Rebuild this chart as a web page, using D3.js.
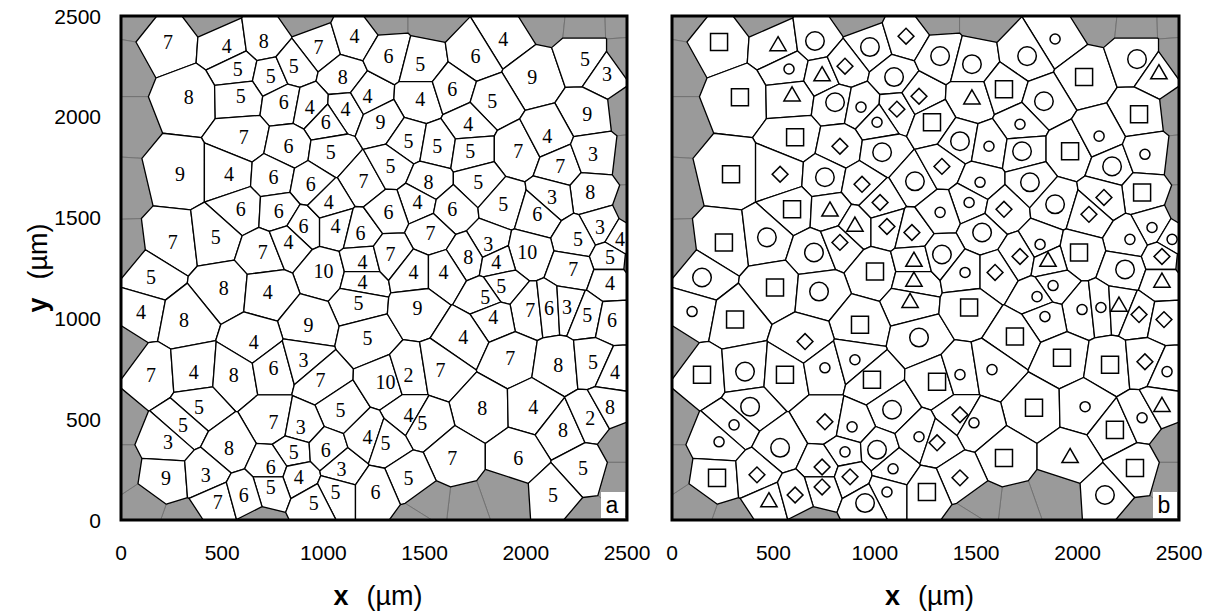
<!DOCTYPE html>
<html><head><meta charset="utf-8">
<script src="https://cdn.jsdelivr.net/npm/d3@7"></script>
<style>body{margin:0;background:#fff}</style>
</head><body>
<svg id="c" width="1207" height="614"></svg>
<script>
const xTicks=[0,500,1000,1500,2000,2500];
const yTicks=[0,500,1000,1500,2000,2500];
// grain centres (µm): [x, y, number of neighbours, symbol class in panel b]
// S square, C large circle, c small circle, D diamond, T triangle
const cells=[
[232,2371,7,"S"],[523,2351,4,"T"],[705,2376,8,"C"],[976,2346,7,"C"],[1154,2400,4,"D"],
[577,2237,5,"c"],[740,2202,5,"T"],[853,2251,5,"D"],[1095,2197,8,"C"],[335,2097,8,"S"],
[592,2102,5,"T"],[804,2072,6,"C"],[932,2048,4,"c"],[1109,2038,4,"D"],[1011,1973,6,"c"],
[1218,2102,4,"D"],[607,1899,7,"S"],[828,1854,6,"D"],[1036,1824,5,"C"],[291,1715,9,"S"],
[533,1715,4,"D"],[754,1700,6,"C"],[937,1665,6,"D"],[1198,1680,7,"C"],[1322,2301,6,"C"],
[1479,2261,5,"C"],[1889,2386,4,"c"],[1751,2301,6,"C"],[2032,2197,9,"S"],[2293,2286,5,"C"],
[2401,2212,3,"T"],[1479,2087,4,"T"],[1637,2137,6,"S"],[1834,2077,5,"C"],[2303,2013,9,"S"],
[1282,1973,9,"S"],[1716,1963,4,"c"],[1420,1879,5,"C"],[1563,1854,5,"c"],[1726,1829,5,"C"],
[1963,1829,7,"S"],[2106,1904,4,"c"],[2170,1754,7,"C"],[2332,1814,3,"c"],[1331,1754,5,"D"],
[1519,1675,8,"c"],[1765,1675,5,"C"],[2318,1625,8,"S"],
[592,1541,6,"S"],[779,1531,6,"T"],[902,1456,6,"T"],[1026,1575,4,"D"],[1060,1456,4,"D"],
[1183,1426,6,"D"],[256,1377,7,"S"],[468,1402,5,"C"],[700,1327,7,"C"],[828,1377,4,"D"],
[1001,1233,10,"S"],[1193,1282,4,"T"],[1193,1183,4,"T"],[148,1203,5,"C"],[508,1153,8,"S"],
[725,1133,4,"C"],[1174,1078,5,"T"],[99,1034,4,"c"],[311,994,8,"S"],[927,969,9,"S"],
[656,885,4,"D"],[1218,905,5,"C"],[1465,1575,4,"c"],[1637,1541,6,"D"],[1889,1566,5,"C"],
[2130,1600,3,"D"],[1322,1526,6,"c"],[2056,1516,6,"D"],[1529,1426,7,"C"],[2367,1451,3,"c"],
[2466,1392,4,"c"],[2258,1392,5,"c"],[1331,1317,7,"C"],[1815,1367,3,"c"],[1716,1307,8,"D"],
[2007,1327,10,"S"],[2416,1307,5,"D"],[1854,1282,4,"T"],[2234,1243,7,"C"],[1445,1228,4,"c"],
[1593,1228,4,"D"],[1879,1163,5,"c"],[2416,1178,4,"T"],[1800,1108,5,"c"],[1465,1054,9,"S"],
[2022,1044,7,"c"],[2115,1054,6,"c"],[2204,1059,3,"T"],[2303,1019,5,"D"],[2426,994,6,"D"],
[1839,1009,4,"c"],[1691,910,4,"S"],
[148,721,7,"S"],[360,736,4,"C"],[557,721,8,"S"],[754,755,6,"c"],[902,795,3,"c"],
[986,696,7,"S"],[385,562,5,"C"],[1085,547,5,"C"],[306,472,5,"c"],[754,487,7,"D"],
[888,462,3,"c"],[232,388,3,"c"],[533,358,8,"C"],[853,338,5,"c"],[1011,348,6,"C"],
[222,209,9,"S"],[740,263,6,"D"],[419,224,3,"D"],[878,214,4,"D"],[1090,254,3,"c"],
[740,164,5,"D"],[1060,139,5,"c"],[478,89,7,"T"],[607,124,6,"D"],[952,84,5,"C"],
[1307,686,10,"S"],[1420,721,2,"c"],[1578,746,7,"c"],[1923,805,7,"S"],[2160,770,8,"S"],
[2332,785,5,"D"],[2441,736,4,"c"],[1785,557,8,"S"],[2037,562,4,"c"],[2184,447,8,"S"],
[2318,507,2,"c"],[2416,562,8,"T"],[1420,522,4,"D"],[1489,482,5,"c"],[1218,413,4,"c"],
[1307,383,5,"D"],[1637,308,7,"S"],[1963,308,6,"T"],[2283,258,5,"S"],[1420,209,5,"D"],
[1257,139,6,"S"],[2135,124,5,"C"]
];
// grains outside the sample (grey)
const grayCells=[
[39,2525],[444,2530],[912,2520],[1307,2515],[1529,2515],[2096,2515],[2293,2495],[2490,2500],
[2505,2286],[2520,2038],[2544,1789],[2554,1541],[2564,1292],[2490,373],[2490,199],
[2318,-30],[1898,109],[1701,40],[1529,60],[1479,-20],[690,-40],[296,-30],[99,40],
[-10,2237],[-10,1963],[-30,1640],[-20,1342],[-20,845],[-39,497],[-39,249]
];

const svg=d3.select("#c");
const y=d3.scaleLinear().domain([0,2500]).range([520,16]);
const panels=[
 {id:"a",x:d3.scaleLinear().domain([0,2500]).range([121,627]),mode:"num"},
 {id:"b",x:d3.scaleLinear().domain([0,2500]).range([672,1179]),mode:"sym"}
];
const pts=cells.map(d=>[d[0],d[1]]).concat(grayCells);
const vor=d3.Delaunay.from(pts).voronoi([0,0,2500,2500]);
const nW=cells.length;
const symMap={S:[d3.symbolSquare,290,0],C:[d3.symbolCircle,270,0],c:[d3.symbolCircle,80,0],D:[d3.symbolSquare,125,45],T:[d3.symbolTriangle,115,0]};
const sans="Liberation Sans, Arial, sans-serif";

panels.forEach(p=>{
  const g=svg.append("g");
  const clipId="clip"+p.id;
  svg.append("clipPath").attr("id",clipId).append("rect")
    .attr("x",p.x(0)).attr("y",y(2500)).attr("width",p.x(2500)-p.x(0)).attr("height",y(0)-y(2500));
  const cg=g.append("g").attr("clip-path","url(#"+clipId+")");
  const line=d3.line().x(d=>p.x(d[0])).y(d=>y(d[1]));
  pts.forEach((pt,i)=>{
    if(i<nW) return;
    const poly=vor.cellPolygon(i); if(!poly) return;
    cg.append("path").attr("d",line(poly)+"Z").attr("fill","#9a9a9a").attr("stroke","#737373").attr("stroke-width",1);
  });
  pts.forEach((pt,i)=>{
    if(i>=nW) return;
    const poly=vor.cellPolygon(i); if(!poly) return;
    cg.append("path").attr("d",line(poly)+"Z").attr("fill","#fff").attr("stroke","#000").attr("stroke-width",1.3).attr("stroke-linejoin","round");
  });
  if(p.mode==="num"){
    cg.selectAll("text.n").data(cells).join("text").attr("class","n")
      .attr("x",d=>p.x(d[0])).attr("y",d=>y(d[1]))
      .attr("text-anchor","middle").attr("dominant-baseline","central")
      .attr("font-family","Liberation Serif, DejaVu Serif, serif").attr("font-size",20)
      .text(d=>d[2]);
  } else {
    cg.selectAll("path.s").data(cells).join("path").attr("class","s")
      .attr("d",d=>d3.symbol().type(symMap[d[3]][0]).size(symMap[d[3]][1])())
      .attr("transform",d=>`translate(${p.x(d[0])},${y(d[1])}) rotate(${symMap[d[3]][2]})`)
      .attr("fill","none").attr("stroke","#000").attr("stroke-width",1.5);
  }
  const lx=p.x(2500)-15, ly=y(0)-15;
  g.append("rect").attr("x",lx-11).attr("y",ly-13).attr("width",24).attr("height",26).attr("fill","#fff");
  g.append("text").attr("x",lx).attr("y",ly).attr("text-anchor","middle").attr("dominant-baseline","central")
    .attr("font-family",sans).attr("font-size",23).text(p.id);
  g.append("rect").attr("x",p.x(0)).attr("y",y(2500)).attr("width",p.x(2500)-p.x(0)).attr("height",y(0)-y(2500))
    .attr("fill","none").attr("stroke","#000").attr("stroke-width",3);
  g.selectAll("text.xt").data(xTicks).join("text").attr("class","xt")
    .attr("x",d=>p.x(d)).attr("y",552).attr("text-anchor","middle").attr("dominant-baseline","central")
    .attr("font-family",sans).attr("font-size",21).text(d=>d);
  const xt=g.append("text").attr("x",(p.x(0)+p.x(2500))/2+4).attr("y",596).attr("text-anchor","middle").attr("dominant-baseline","central")
    .attr("font-family",sans).attr("font-size",27);
  xt.append("tspan").attr("font-weight","bold").text("x");
  xt.append("tspan").attr("dx",18).text("(µm)");
});
svg.selectAll("text.yt").data(yTicks).join("text").attr("class","yt")
  .attr("x",101).attr("y",d=>y(d)).attr("text-anchor","end").attr("dominant-baseline","central")
  .attr("font-family",sans).attr("font-size",21).text(d=>d);
const yt=svg.append("text").attr("transform","translate(38,268) rotate(-90)").attr("text-anchor","middle").attr("dominant-baseline","central")
  .attr("font-family",sans).attr("font-size",27);
yt.append("tspan").attr("font-weight","bold").text("y");
yt.append("tspan").attr("dx",18).text("(µm)");
</script>
</body></html>
